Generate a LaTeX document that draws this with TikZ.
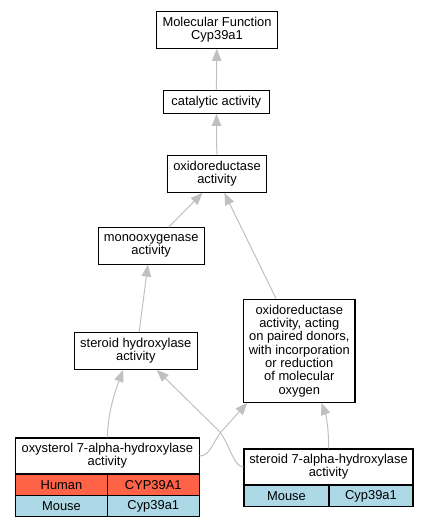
\documentclass[tikz,border=0pt]{standalone}
\usepackage{fontspec}
\setmainfont{Liberation Sans}
\usetikzlibrary{arrows.meta}

\definecolor{edgegray}{RGB}{192,192,192}
\definecolor{humanred}{RGB}{255,99,71}
\definecolor{mouseblue}{RGB}{173,216,230}
\newcommand{\gofont}{\fontsize{12.9}{13.3}\selectfont}

\tikzset{
    term/.style={draw=black, line width=1.1pt, fill=white, align=center,
        inner sep=0pt, font=\gofont},
    human/.style={term, fill=humanred},
    mouse/.style={term, fill=mouseblue},
    isa/.style={draw=edgegray, line width=1pt,
        -{Triangle[length=12pt,width=9.5pt]}}
}

\begin{document}
\begin{tikzpicture}[x=1pt,y=-1pt]
    \useasboundingbox (0,0) rectangle (428,528);

    % GO terms
    \node[term, minimum width=120.6, minimum height=36.6] (mf)
        at (217,30) {Molecular Function\\Cyp39a1};
    \node[term, minimum width=106, minimum height=23.3] (cat)
        at (216.3,101.7) {catalytic activity};
    \node[term, minimum width=99.4, minimum height=37.3] (oxid)
        at (217,173.7) {oxidoreductase\\activity};
    \node[term, minimum width=105.7, minimum height=36.3] (mono)
        at (151.2,245.9) {monooxygenase\\activity};
    \node[term, minimum width=123, minimum height=36.6] (shyd)
        at (135.8,351) {steroid hydroxylase\\activity};
    \node[term, minimum width=111.3, minimum height=103] (acting)
        at (299.3,350.8) {oxidoreductase\\activity, acting\\on paired donors,\\with incorporation\\or reduction\\of molecular\\oxygen};

    % annotated terms with their genes
    \node[term, minimum width=183.6, minimum height=36] (oxy)
        at (107.3,456) {oxysterol 7-alpha-hydroxylase\\activity};
    \node[human, minimum width=92, minimum height=21.3] (oxyhs)
        at (61.5,484.7) {Human};
    \node[human, minimum width=91.6, minimum height=21.3] (oxyhg)
        at (153.3,484.7) {CYP39A1};
    \node[mouse, minimum width=92, minimum height=21.3] (oxyms)
        at (61.5,506) {Mouse};
    \node[mouse, minimum width=91.6, minimum height=21.3] (oxymg)
        at (153.3,506) {Cyp39a1};

    \node[term, minimum width=169, minimum height=36] (st7)
        at (328.5,467) {steroid 7-alpha-hydroxylase\\activity};
    \node[mouse, minimum width=85, minimum height=21.7] (st7ms)
        at (286.5,496) {Mouse};
    \node[mouse, minimum width=84, minimum height=21.7] (st7mg)
        at (371,496) {Cyp39a1};

    % is_a edges
    \draw[isa] (cat) -- (mf);
    \draw[isa] (oxid) -- (cat);
    \draw[isa] (mono.47) -- (oxid.233);
    \draw[isa] (acting.114) -- (oxid.291);
    \draw[isa] (shyd.80) -- (mono.260);
    \draw[isa] (oxy.north) .. controls (108,415) and (113,397) .. (shyd.236);
    \draw[isa] (st7.west) .. controls (233,467) and (229,441) .. (218,430)
        -- (shyd.318);
    \draw[isa] (oxy.east) .. controls (210,456) and (213,442) .. (221,432)
        -- (acting.225);
    \draw[isa] (st7.north) .. controls (329,430) and (326,415) .. (acting.293);
\end{tikzpicture}
\end{document}
